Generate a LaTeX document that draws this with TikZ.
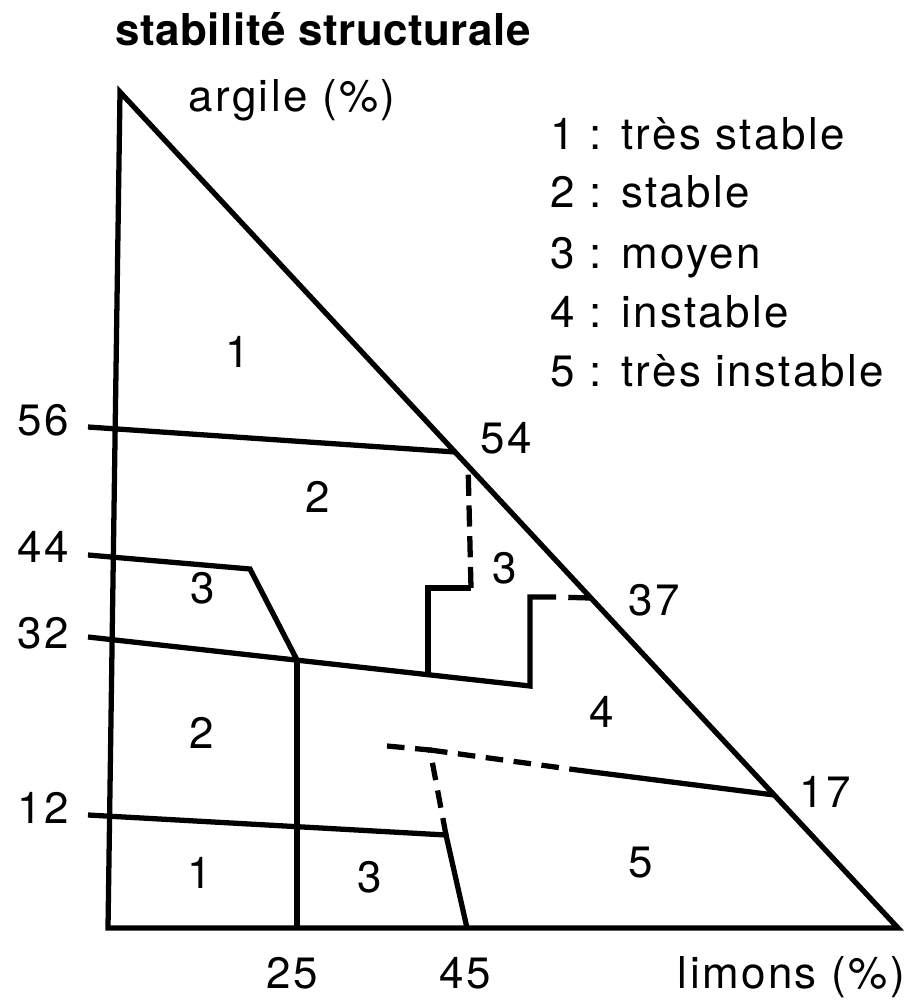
\documentclass[tikz,border=0pt]{standalone}
\usepackage{fontspec}
\setmainfont{TeX Gyre Heros}[LetterSpace=5.5]
\newfontfamily\titrefont{TeX Gyre Heros}[LetterSpace=1.2]
\usetikzlibrary{calc}
\begin{document}
\begin{tikzpicture}[x=0.02cm, y=-0.02cm,
  every node/.style={font=\fontsize{25}{30}\selectfont, inner sep=0pt, anchor=base},
  trait/.style={line width=3pt, line join=miter},
  pointille/.style={line width=3pt, dash pattern=on 10pt off 6pt}]
  \useasboundingbox (0,0) rectangle (916,1000);
  % triangle
  \coordinate (A) at (120,92);
  \coordinate (O) at (108,928);
  \coordinate (B) at (898,928);
  \draw[trait] (A) -- (O) -- (B) -- cycle;
  % points on the hypotenuse
  \coordinate (h54) at ($(A)!0.4306!(B)$);
  \coordinate (h54b) at ($(A)!0.4474!(B)$);
  \coordinate (h37) at ($(A)!0.6053!(B)$);
  \coordinate (h17) at ($(A)!0.8409!(B)$);
  % ticks on the argile axis
  \coordinate (t56) at (88,427);
  \coordinate (t44) at (88,555);
  \coordinate (t32) at (88,637);
  \coordinate (t12) at (88,815);
  % inner corners
  \coordinate (k44) at (250,569);
  \coordinate (c25) at (297,660);
  \coordinate (s1) at (428,673);
  \coordinate (s2) at (428,588);
  \coordinate (s3) at (471,588);
  \coordinate (m32) at (530,686);
  \coordinate (m37) at (530,597);
  \coordinate (e37) at (556,597);
  \coordinate (c12) at (446,835);
  \coordinate (b45) at (467,928);
  \coordinate (b25) at (297,928);
  \coordinate (d0) at (387,746);
  \coordinate (d1) at (430,750);
  \coordinate (d2) at (577,770);
  % limits
  \draw[trait] (t56) -- (h54);
  \draw[trait] (t44) -- (k44) -- (c25);
  \draw[trait] (t32) -- (m32) -- (m37) -- (e37);
  \draw[pointille, dash pattern=on 0pt off 7pt on 13pt off 5pt] (e37) -- (h37);
  \draw[trait] (s1) -- (s2) -- (s3);
  \draw[line width=3pt, dash pattern=on 12pt off 5.5pt] (s3) -- (h54b);
  \draw[trait] (c25) -- (b25);
  \draw[trait] (t12) -- (c12) -- (b45);
  \draw[pointille] (d0) -- (d1) -- (c12);
  \draw[pointille] (d1) -- (d2);
  \draw[trait] (d2) -- (h17);
  % axis values
  \node (v56) at (43,435) {56};
  \node (v44) at (43,562) {44};
  \node (v32) at (43,648) {32};
  \node (v12) at (43,823) {12};
  \node (v25) at (292,988) {25};
  \node (v45) at (465,988) {45};
  \node (v54) at (506,453) {54};
  \node (v37) at (654,615) {37};
  \node (v17) at (825,807) {17};
  \node[anchor=base west] (argile) at (188,112) {argile (\%)};
  \node[anchor=base east] (limons) at (905,988) {limons (\%)};
  \node[anchor=base west, font=\fontsize{25}{30}\selectfont\titrefont\bfseries] (titre) at (115,46) {stabilité structurale};
  % classes
  \node (z1a) at (238,367) {1};
  \node (z2a) at (318,512) {2};
  \node (z3a) at (505,583) {3};
  \node (z3b) at (203,603) {3};
  \node (z2b) at (202,748) {2};
  \node (z4) at (602,727) {4};
  \node (z1b) at (200,888) {1};
  \node (z3c) at (370,892) {3};
  \node (z5) at (641,877) {5};
  % legend
  \node[anchor=base west] (leg1) at (550,150) {1 : très stable};
  \node[anchor=base west] (leg2) at (550,208) {2 : stable};
  \node[anchor=base west] (leg3) at (550,268) {3 : moyen};
  \node[anchor=base west] (leg4) at (550,327) {4 : instable};
  \node[anchor=base west] (leg5) at (550,386) {5 : très instable};
\end{tikzpicture}
\end{document}
